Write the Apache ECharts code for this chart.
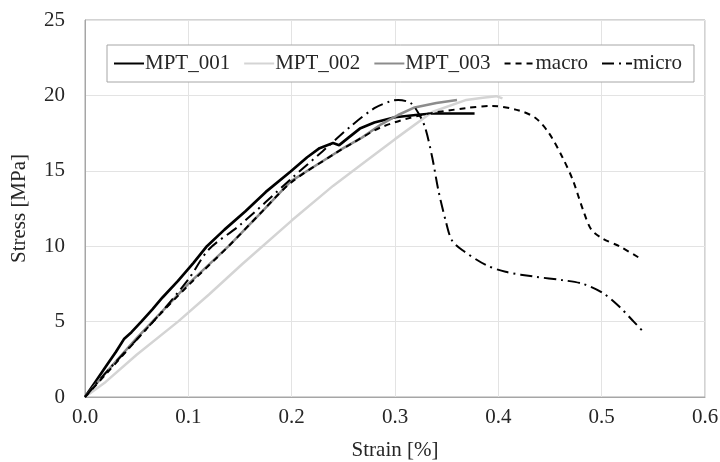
<!DOCTYPE html>
<html>
<head>
<meta charset="utf-8">
<script src="https://cdn.jsdelivr.net/npm/echarts@6/dist/echarts.min.js"></script>
<style>html,body{margin:0;padding:0;background:#fff}#c{width:720px;height:462px}</style>
</head>
<body>
<div id="c"></div>
<script>
const xTicks = [0.0, 0.1, 0.2, 0.3, 0.4, 0.5, 0.6];
const yTicks = [0, 5, 10, 15, 20, 25];

const mpt001X = [0, 0.01, 0.02, 0.03, 0.038, 0.045, 0.0545, 0.065, 0.075, 0.09, 0.105, 0.118, 0.135, 0.155, 0.175, 0.199, 0.215, 0.227, 0.24, 0.246, 0.255, 0.266, 0.28, 0.3, 0.32, 0.336, 0.355, 0.377];
const mpt001Y = [0, 1.0, 2.0, 3.0, 3.87, 4.3, 5.0, 5.8, 6.6, 7.7, 8.9, 10.0, 11.1, 12.3, 13.6, 14.95, 15.9, 16.5, 16.85, 16.7, 17.2, 17.8, 18.2, 18.55, 18.7, 18.8, 18.8, 18.8];

const mpt002X = [0, 0.02, 0.05, 0.09, 0.12, 0.152, 0.2, 0.24, 0.271, 0.3, 0.336, 0.369, 0.385, 0.398, 0.404];
const mpt002Y = [0, 1.0, 2.8, 5.0, 6.8, 8.8, 11.7, 14.0, 15.6, 17.1, 18.9, 19.7, 19.85, 19.95, 19.8];

const mpt003X = [0, 0.02, 0.05, 0.1, 0.139, 0.17, 0.199, 0.236, 0.25, 0.268, 0.287, 0.303, 0.319, 0.34, 0.36];
const mpt003Y = [0, 1.6, 3.9, 7.5, 10.0, 12.2, 14.3, 15.9, 16.5, 17.2, 18.1, 18.7, 19.2, 19.5, 19.7];

const macroX = [0, 0.02, 0.066, 0.1, 0.139, 0.17, 0.199, 0.242, 0.258, 0.287, 0.326, 0.368, 0.394, 0.42, 0.436, 0.449, 0.462, 0.472, 0.482, 0.49, 0.501, 0.517, 0.537];
const macroY = [0, 1.5, 5.0, 7.4, 10.0, 12.2, 14.2, 16.15, 16.8, 17.9, 18.7, 19.15, 19.3, 19.0, 18.5, 17.5, 15.9, 14.4, 12.4, 11.1, 10.5, 10.0, 9.2];

const microX = [0, 0.02, 0.066, 0.1, 0.12, 0.15, 0.2, 0.23, 0.258, 0.28, 0.295, 0.303, 0.315, 0.322, 0.329, 0.336, 0.342, 0.349, 0.355, 0.365, 0.388, 0.407, 0.436, 0.462, 0.482, 0.501, 0.517, 0.531, 0.542];
const microY = [0, 1.6, 5.0, 7.8, 9.8, 11.4, 14.5, 16.3, 18.0, 19.15, 19.6, 19.7, 19.5, 18.9, 17.9, 15.9, 13.7, 11.7, 10.4, 9.75, 8.75, 8.3, 7.97, 7.75, 7.5, 6.9, 6.0, 5.0, 4.2];

const pair = (xs, ys) => xs.map((x, i) => [x, ys[i]]);
const FONT = "'Liberation Serif', 'Times New Roman', serif";
const TXT = '#262626';

const chart = echarts.init(document.getElementById('c'), null, {renderer: 'canvas'});
chart.setOption({
  backgroundColor: '#fff',
  animation: false,
  textStyle: {fontFamily: FONT, color: TXT},
  grid: {left: 85, right: 15, top: 20, bottom: 65, show: true, borderColor: '#a6a6a6', borderWidth: 1,
         containLabel: false, outerBoundsMode: 'none'},
  legend: {
    left: 107, top: 45,
    padding: [8, 12, 8, 6],
    borderColor: '#a6a6a6', borderWidth: 1, backgroundColor: '#fff',
    itemWidth: 30, itemHeight: 10, itemGap: 13,
    itemStyle: {opacity: 0},
    textStyle: {fontFamily: FONT, fontSize: 21, color: TXT, padding: [0, 0, 0, -4]},
    data: ['MPT_001', 'MPT_002', 'MPT_003', 'macro', 'micro']
  },
  xAxis: {
    type: 'value', min: xTicks[0], max: xTicks[xTicks.length - 1], interval: 0.1,
    name: 'Strain [%]', nameLocation: 'middle', nameGap: 43,
    nameTextStyle: {fontFamily: FONT, fontSize: 21, color: TXT},
    axisLine: {lineStyle: {color: '#a6a6a6'}},
    axisTick: {show: false},
    axisLabel: {fontFamily: FONT, fontSize: 21, color: TXT, margin: 10, formatter: v => v.toFixed(1)},
    splitLine: {lineStyle: {color: '#e3e3e3'}}
  },
  yAxis: {
    type: 'value', min: yTicks[0], max: yTicks[yTicks.length - 1], interval: 5,
    name: 'Stress [MPa]', nameLocation: 'middle', nameGap: 55, nameRotate: 90,
    nameTextStyle: {fontFamily: FONT, fontSize: 21, color: TXT},
    axisLine: {show: true, lineStyle: {color: '#a6a6a6'}},
    axisTick: {show: false},
    axisLabel: {fontFamily: FONT, fontSize: 21, color: TXT, margin: 20},
    splitLine: {lineStyle: {color: '#e3e3e3'}}
  },
  series: [
    {name: 'MPT_001', type: 'line', symbol: 'none', showSymbol: false, data: pair(mpt001X, mpt001Y),
     lineStyle: {color: '#000', width: 2.7}, itemStyle: {color: '#000'}},
    {name: 'MPT_002', type: 'line', symbol: 'none', showSymbol: false, data: pair(mpt002X, mpt002Y),
     lineStyle: {color: '#d4d4d4', width: 2.5}, itemStyle: {color: '#d4d4d4'}},
    {name: 'MPT_003', type: 'line', symbol: 'none', showSymbol: false, data: pair(mpt003X, mpt003Y),
     lineStyle: {color: '#8c8c8c', width: 2.5}, itemStyle: {color: '#8c8c8c'}},
    {name: 'macro', type: 'line', symbol: 'none', showSymbol: false, smooth: 0.3, data: pair(macroX, macroY),
     lineStyle: {color: '#000', width: 2, type: [6, 5]}, itemStyle: {color: '#000'}},
    {name: 'micro', type: 'line', symbol: 'none', showSymbol: false, smooth: 0.3, data: pair(microX, microY),
     lineStyle: {color: '#000', width: 2, type: [12, 5, 2, 5]}, itemStyle: {color: '#000'}}
  ]
});
</script>
</body>
</html>
